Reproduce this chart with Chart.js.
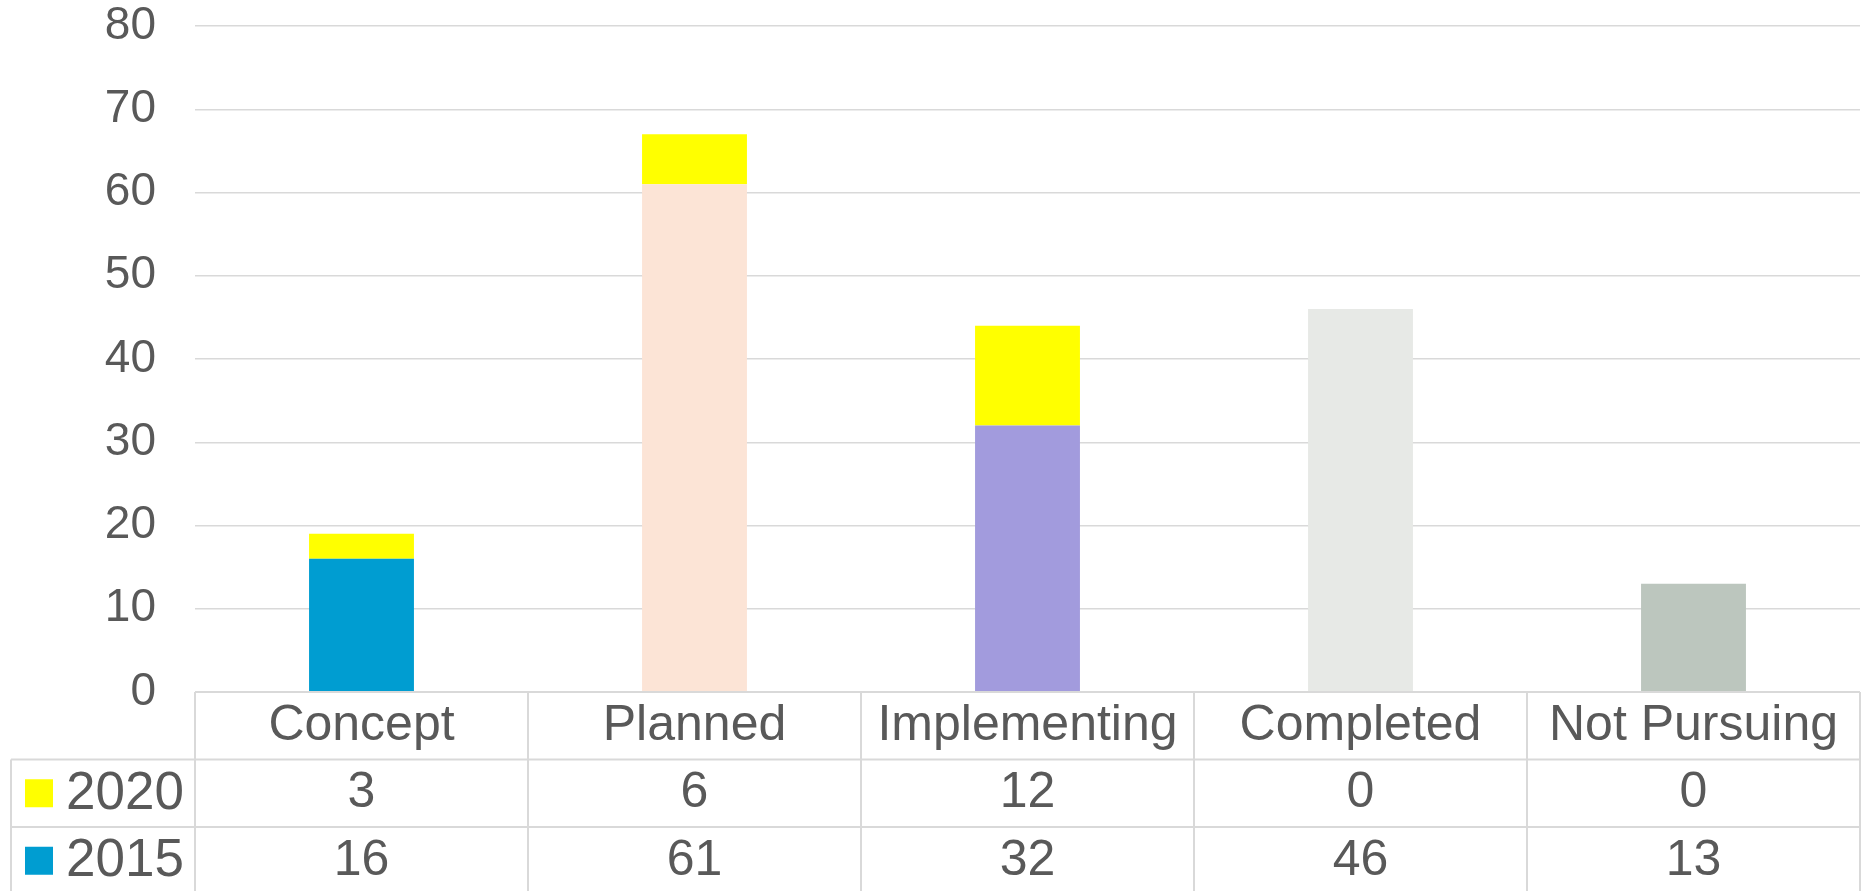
<!DOCTYPE html>
<html>
<head>
<meta charset="utf-8">
<script src="https://cdn.jsdelivr.net/npm/chart.js@4"></script>
<style>
  body { margin: 0; background: #fff; }
  #wrap { width: 1867px; height: 891px; }
</style>
</head>
<body>
<div id="wrap"><canvas id="chart" width="1867" height="891"></canvas></div>
<script>
const categories = ['Concept', 'Planned', 'Implementing', 'Completed', 'Not Pursuing'];
const values2020 = [3, 6, 12, 0, 0];
const values2015 = [16, 61, 32, 46, 13];
const colors2015 = ['#009dd1', '#fce4d6', '#a29bdd', '#e7e9e6', '#bcc6be'];
const color2020 = '#ffff00';
const yTicks = [0, 10, 20, 30, 40, 50, 60, 70, 80];

const textColor = '#595959';
const lineColor = '#d9d9d9';
const fontFamily = "'Liberation Sans', Arial, sans-serif";

// rows of the data table under the plot, top to bottom
const tableRows = [
    { label: '2020', color: color2020, values: values2020 },
    { label: '2015', color: colors2015[0], values: values2015 }
];

const dataTable = {
    id: 'dataTable',
    afterDraw(chart) {
        const ctx = chart.ctx;
        const x = chart.scales.x;
        const area = chart.chartArea;
        const top = area.bottom;
        const rowH = 67.5;
        const colW = (area.right - area.left) / categories.length;
        const tableLeft = 11;
        const bottom = chart.height;

        ctx.save();
        ctx.strokeStyle = lineColor;
        ctx.lineWidth = 2;
        ctx.beginPath();
        // top border of the header row
        ctx.moveTo(area.left, top);
        ctx.lineTo(area.right, top);
        // row borders
        for (let r = 1; r <= tableRows.length; r++) {
            ctx.moveTo(tableLeft, top + rowH * r);
            ctx.lineTo(area.right, top + rowH * r);
        }
        // column borders
        for (let i = 0; i <= categories.length; i++) {
            const cx = area.left + colW * i;
            ctx.moveTo(cx, top);
            ctx.lineTo(cx, bottom);
        }
        ctx.moveTo(tableLeft, top + rowH);
        ctx.lineTo(tableLeft, bottom);
        ctx.stroke();

        ctx.fillStyle = textColor;
        ctx.font = '50px ' + fontFamily;
        ctx.textAlign = 'center';
        ctx.textBaseline = 'middle';
        categories.forEach((c, i) => {
            ctx.fillText(c, x.getPixelForValue(i), top + rowH * 0.5);
        });
        tableRows.forEach((row, r) => {
            const cy = top + rowH * (r + 1.5);
            ctx.font = '50px ' + fontFamily;
            row.values.forEach((v, i) => {
                ctx.fillText(String(v), x.getPixelForValue(i), cy);
            });
            ctx.fillStyle = row.color;
            ctx.fillRect(25, cy - 14, 28, 28);
            ctx.fillStyle = textColor;
            ctx.textAlign = 'left';
            ctx.font = '53px ' + fontFamily;
            ctx.fillText(row.label, 66, cy + 1);
            ctx.textAlign = 'center';
        });
        ctx.restore();
    }
};

window.onload = function() {
    const ctx = document.getElementById('chart').getContext('2d');
    new Chart(ctx, {
        type: 'bar',
        data: {
            labels: categories,
            datasets: [{
                label: '2015',
                data: values2015,
                backgroundColor: colors2015,
                borderWidth: 0
            }, {
                label: '2020',
                data: values2020,
                backgroundColor: color2020,
                borderWidth: 0
            }]
        },
        options: {
            responsive: false,
            animation: false,
            layout: {
                padding: { left: 0, right: 7, top: 26, bottom: 199 }
            },
            datasets: {
                bar: { barPercentage: 0.315, categoryPercentage: 1 }
            },
            plugins: {
                legend: { display: false },
                tooltip: { enabled: false }
            },
            scales: {
                x: {
                    stacked: true,
                    display: false
                },
                y: {
                    stacked: true,
                    min: 0,
                    max: 80,
                    afterFit(scale) {
                        scale.width = 195;
                        scale.paddingTop = 0;
                        scale.paddingBottom = 0;
                    },
                    afterBuildTicks(scale) { scale.ticks = yTicks.map(v => ({ value: v })); },
                    border: { display: false },
                    grid: { color: lineColor, lineWidth: 1.5, drawTicks: false },
                    ticks: {
                        padding: 39,
                        color: textColor,
                        font: { family: fontFamily, size: 46, lineHeight: 1 }
                    }
                }
            }
        },
        plugins: [dataTable]
    });
};
</script>
</body>
</html>
